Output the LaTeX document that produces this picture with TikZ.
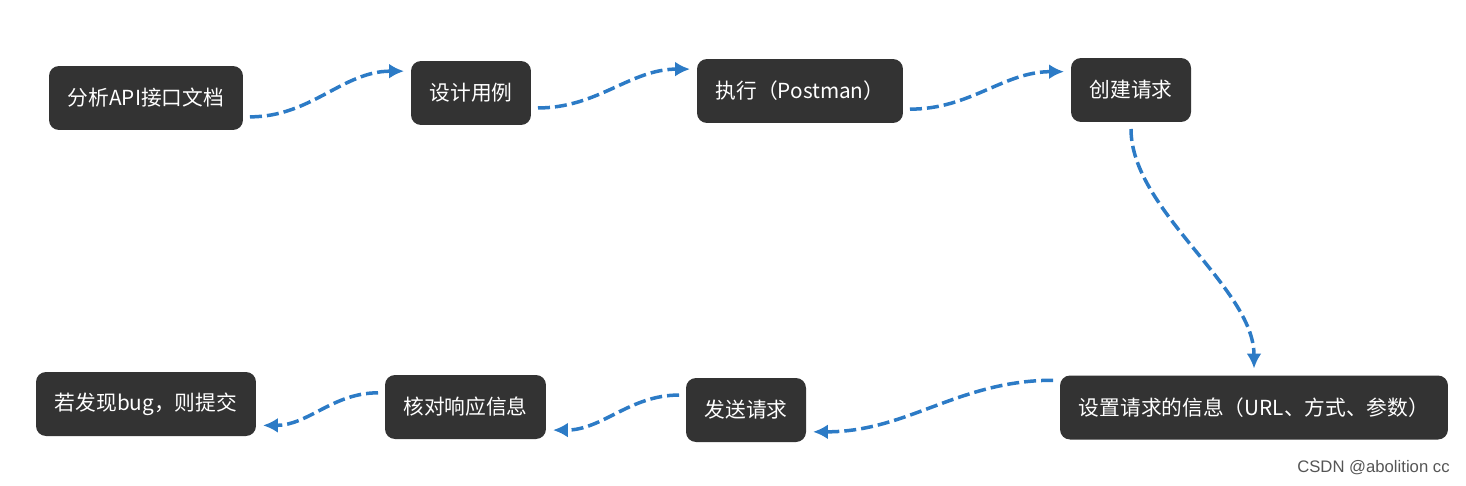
\documentclass[tikz,border=0pt]{standalone}
\usepackage{fontspec}
\setmainfont{Noto Sans CJK SC}
\newfontfamily\markfont{Liberation Sans}
\usetikzlibrary{arrows.meta}
\definecolor{boxgray}{HTML}{333333}
\definecolor{flowblue}{HTML}{2C7BC6}
\definecolor{markgray}{HTML}{555555}

\begin{document}
\begin{tikzpicture}[x=0.02cm,y=0.02cm,
	flowbox/.style={fill=boxgray,text=white,rounded corners=0.2cm,minimum height=1.28cm,inner sep=0pt,outer sep=0pt,font=\fontsize{11.8}{14}\selectfont},
	flowarrow/.style={draw=flowblue,line width=0.07cm,dash pattern=on 0.24cm off 0.1cm,-{Latex[length=0.3cm,width=0.3cm]},shorten <=0.14cm,shorten >=0.14cm}]
	\useasboundingbox (0,0) rectangle (1466,485);

	\node [flowbox,minimum width=3.88cm] at (146,387) (analyse) {分析API接口文档};
	\node [flowbox,minimum width=2.4cm] at (471,392) (design) {设计用例};
	\node [flowbox,minimum width=4.12cm] at (800,394) (execute) {执行（Postman）};
	\node [flowbox,minimum width=2.4cm] at (1131,395) (create) {创建请求};

	\node [flowbox,minimum width=7.76cm] at (1254,77.5) (setinfo) {设置请求的信息（URL、方式、参数）};
	\node [flowbox,minimum width=2.4cm] at (746,75) (send) {发送请求};
	\node [flowbox,minimum width=3.22cm] at (465.5,78) (check) {核对响应信息};
	\node [flowbox,minimum width=4.4cm] at (146,81) (submit) {若发现bug，则提交};

	\draw [flowarrow] (analyse.-11) to[out=0,in=180] (design.160);
	\draw [flowarrow] (design.-14) to[out=0,in=180] (execute.168);
	\draw [flowarrow] (execute.-10) to[out=0,in=180] (create.163);
	\draw [flowarrow] (create.south) to[out=-90,in=90,looseness=0.8] (setinfo.north);
	\draw [flowarrow] (setinfo.172) to[out=180,in=0] (send.-20);
	\draw [flowarrow] (send.166) to[out=180,in=0] (check.-16);
	\draw [flowarrow] (check.170) to[out=180,in=0] (submit.-11);

	\node [font=\markfont\fontsize{9.5}{11}\selectfont,text=markgray,anchor=east,inner sep=0pt] at (1450,17) (mark) {CSDN @abolition cc};
\end{tikzpicture}
\end{document}
